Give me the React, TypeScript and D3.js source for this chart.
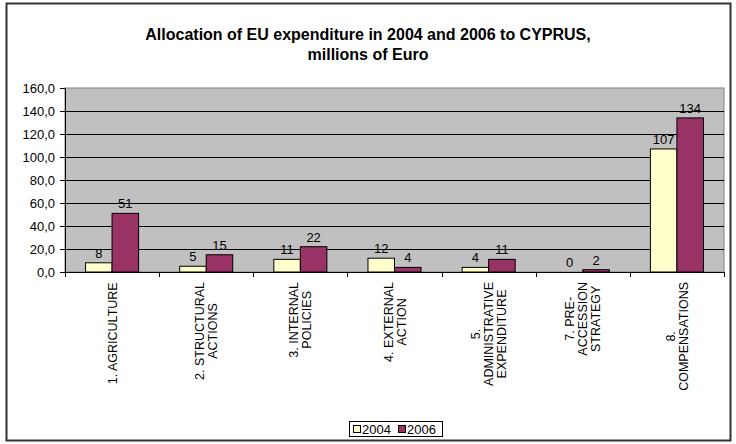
import React from "react";
import * as d3 from "d3";

const categories: string[][] = [
  ["1. AGRICULTURE"],
  ["2. STRUCTURAL", "ACTIONS"],
  ["3. INTERNAL", "POLICIES"],
  ["4. EXTERNAL", "ACTION"],
  ["5.", "ADMINISTRATIVE", "EXPENDITURE"],
  ["7. PRE-", "ACCESSION", "STRATEGY"],
  ["8.", "COMPENSATIONS"],
];
const values2004 = [8, 5, 11, 12, 4, 0, 107];
const values2006 = [51, 15, 22, 4, 11, 2, 134];
const seriesNames = ["2004", "2006"];
const yTicks = [0, 20, 40, 60, 80, 100, 120, 140, 160];
const titleLines = [
  "Allocation of EU expenditure in 2004 and 2006 to CYPRUS,",
  "millions of Euro",
];

const colors = ["#FFFFCC", "#993366"];
const FONT = "'Liberation Sans', Arial, sans-serif";
const LABEL_SIZE = 12.5;

function measure(text: string, size: number, bold = false): number {
  const c = document.createElement("canvas").getContext("2d");
  if (!c) return text.length * size * 0.6;
  c.font = `${bold ? "bold " : ""}${size}px 'Liberation Sans', Arial, sans-serif`;
  return c.measureText(text).width;
}

export default function App() {
  const W = 736, H = 444;
  const left = 65, right = 724, top = 88, bottom = 272;
  const x = d3.scaleBand<number>().domain(d3.range(categories.length)).range([left, right]).paddingInner(0).paddingOuter(0);
  const y = d3.scaleLinear().domain([0, 160]).range([bottom, top]);
  const bw = x.bandwidth();
  const barW = bw / 3.55;
  const groupOff = (bw - 2 * barW) / 2;
  const series = [values2004, values2006];
  const fmt = (v: number) => v.toFixed(1).replace(".", ",");

  return (
    <svg width={W} height={H} style={{ position: "absolute", left: 0, top: 0, background: "#fff" }} fontFamily={FONT}>
      <rect x={6.5} y={3.5} width={724} height={437} fill="#fff" stroke="#333" strokeWidth={2} />
      {titleLines.map((t, i) => (
        <text key={i} x={368} y={40 + i * 20} textAnchor="middle" fontWeight="bold" fontSize={16} fill="#000">
          {t}
        </text>
      ))}
      <rect x={left} y={top} width={right - left} height={bottom - top} fill="#C0C0C0" stroke="#808080" strokeWidth={1} />
      {yTicks.map((t) => (
        <g key={t}>
          {t > 0 && t < 160 && <line x1={left} x2={right} y1={Math.round(y(t)) + 0.5} y2={Math.round(y(t)) + 0.5} stroke="#000" strokeWidth={1} />}
          <line x1={left - 5} x2={left} y1={Math.round(y(t)) + 0.5} y2={Math.round(y(t)) + 0.5} stroke="#000" />
          <text x={left - 10} y={y(t) + 4.5} textAnchor="end" fontSize={13} fill="#000">{fmt(t)}</text>
        </g>
      ))}
      {series.map((vals, s) =>
        vals.map((v, i) => {
          const bx = (x(i) as number) + groupOff + s * barW;
          const by = y(v);
          return (
            <g key={`${s}-${i}`}>
              {v > 0 && (
                <rect x={bx} y={by} width={barW} height={bottom - by} fill={colors[s]} stroke="#000" strokeWidth={1} />
              )}
              <text x={bx + barW / 2} y={by - 5} textAnchor="middle" fontSize={13} fill="#000">{Math.round(v)}</text>
            </g>
          );
        })
      )}
      <line x1={left + 0.5} x2={left + 0.5} y1={top} y2={bottom} stroke="#000" />
      <line x1={left} x2={right} y1={bottom + 0.5} y2={bottom + 0.5} stroke="#000" />
      {d3.range(categories.length + 1).map((i) => {
        const tx = Math.round(left + i * bw) + 0.5;
        return <line key={i} x1={tx} x2={tx} y1={bottom} y2={bottom + 5} stroke="#000" />;
      })}
      {categories.map((lines, i) => {
        const cx = (x(i) as number) + bw / 2;
        const blockLen = d3.max(lines, (l) => measure(l, LABEL_SIZE)) as number;
        const cy = 282 + blockLen / 2;
        const lh = 13;
        return (
          <text key={i} transform={`translate(${cx},${cy}) rotate(-90)`} textAnchor="middle" fontSize={LABEL_SIZE} fill="#000">
            {lines.map((l, j) => (
              <tspan key={j} x={0} y={(j - (lines.length - 1) / 2) * lh + 4.5}>{l}</tspan>
            ))}
          </text>
        );
      })}
      <rect x={349.5} y={421.5} width={93} height={15} fill="#fff" stroke="#000" />
      {seriesNames.map((n, i) => (
        <g key={n}>
          <rect x={353.5 + i * 45} y={425.5} width={7} height={7} fill={colors[i]} stroke="#000" />
          <text x={362 + i * 45} y={433.5} fontSize={13} fill="#000">{n}</text>
        </g>
      ))}
    </svg>
  );
}
